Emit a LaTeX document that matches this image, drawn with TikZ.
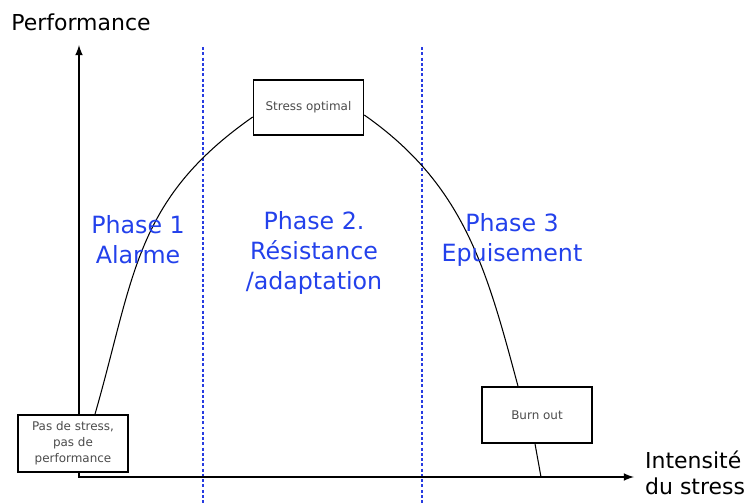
\documentclass[tikz,border=0pt]{standalone}
\usepackage{fontspec}
\setmainfont{DejaVu Sans}
\usepackage{tikz}
\usepackage{xcolor}
\usetikzlibrary{arrows}
\usetikzlibrary{positioning}

\begin{document}
\begin{tikzpicture}[x={0.02cm}, y={-0.02cm}]
	\definecolor{WHITE}{RGB}{255, 255, 255}
	\definecolor{BLACK}{RGB}{0, 0, 0}
	\definecolor{DARK_GRAY}{RGB}{75, 75, 75}
	\definecolor{PHASE_BLUE}{RGB}{35, 65, 235}
	\definecolor{DOT_BLUE}{RGB}{40, 60, 225}
	\tikzset{
		axis/.style={line width={1pt}, color={BLACK}},
		curve/.style={line width={0.6pt}, color={BLACK}},
		separator/.style={line width={1.4pt}, color={DOT_BLUE}, dash pattern={on 1.7pt off 1.3pt}},
		stage/.style={draw={BLACK}, line width={0.9pt}, fill={WHITE}, minimum width={2.2cm},
			minimum height={1.1cm}, inner sep={0pt}, align=center, text={DARK_GRAY},
			font={\fontsize{6.8}{9}\selectfont}},
		phase/.style={align=center, text={PHASE_BLUE}, font={\fontsize{13.5}{17}\selectfont}},
		title/.style={align=left, text={BLACK}, font={\fontsize{12.5}{14.8}\selectfont}}
	}
	\useasboundingbox (0, 0) rectangle (748, 504);

	% phase separators
	\draw[separator] (203, 47) -- (203, 504);
	\draw[separator] (422, 47) -- (422, 504);

	% axes
	\coordinate (origin) at (79, 477);
	\coordinate (ytip) at (79, 45);
	\coordinate (xtip) at (634, 477);
	\coordinate (zero) at (541, 477);
	\draw[axis, latex-latex] (ytip) -- (origin) -- (xtip);

	\node[title, anchor=center] (ylabel) at (81, 22) {Performance};
	\node[title, anchor=west] (xlabel) at (639, 473) {Intensité\\du stress};

	% stages
	\node[stage, minimum height={1.14cm}] (pas) at (73, 443.5) {Pas de stress,\\pas de\\performance};
	\node[stage] (opt) at (308.5, 107.5) {Stress optimal};
	\node[stage, minimum height={1.12cm}] (burn) at (537, 415) {Burn out};

	% performance curve
	\draw[curve] ([xshift=0.44cm]pas.north) to[out=74, in=215, looseness=1.1] ([yshift=-0.19cm]opt.west);
	\draw[curve] ([yshift=-0.15cm]opt.east) to[out=-35, in=105] ([xshift=-0.38cm]burn.north);
	\draw[curve] ([xshift=-0.04cm]burn.south) -- (zero);

	% phases
	\node[phase] (phase1) at (138, 240) {Phase 1\\Alarme};
	\node[phase] (phase2) at (314, 253) {Phase 2.\\Résistance\\/adaptation};
	\node[phase] (phase3) at (512, 240) {Phase 3\\Epuisement};
\end{tikzpicture}
\end{document}
